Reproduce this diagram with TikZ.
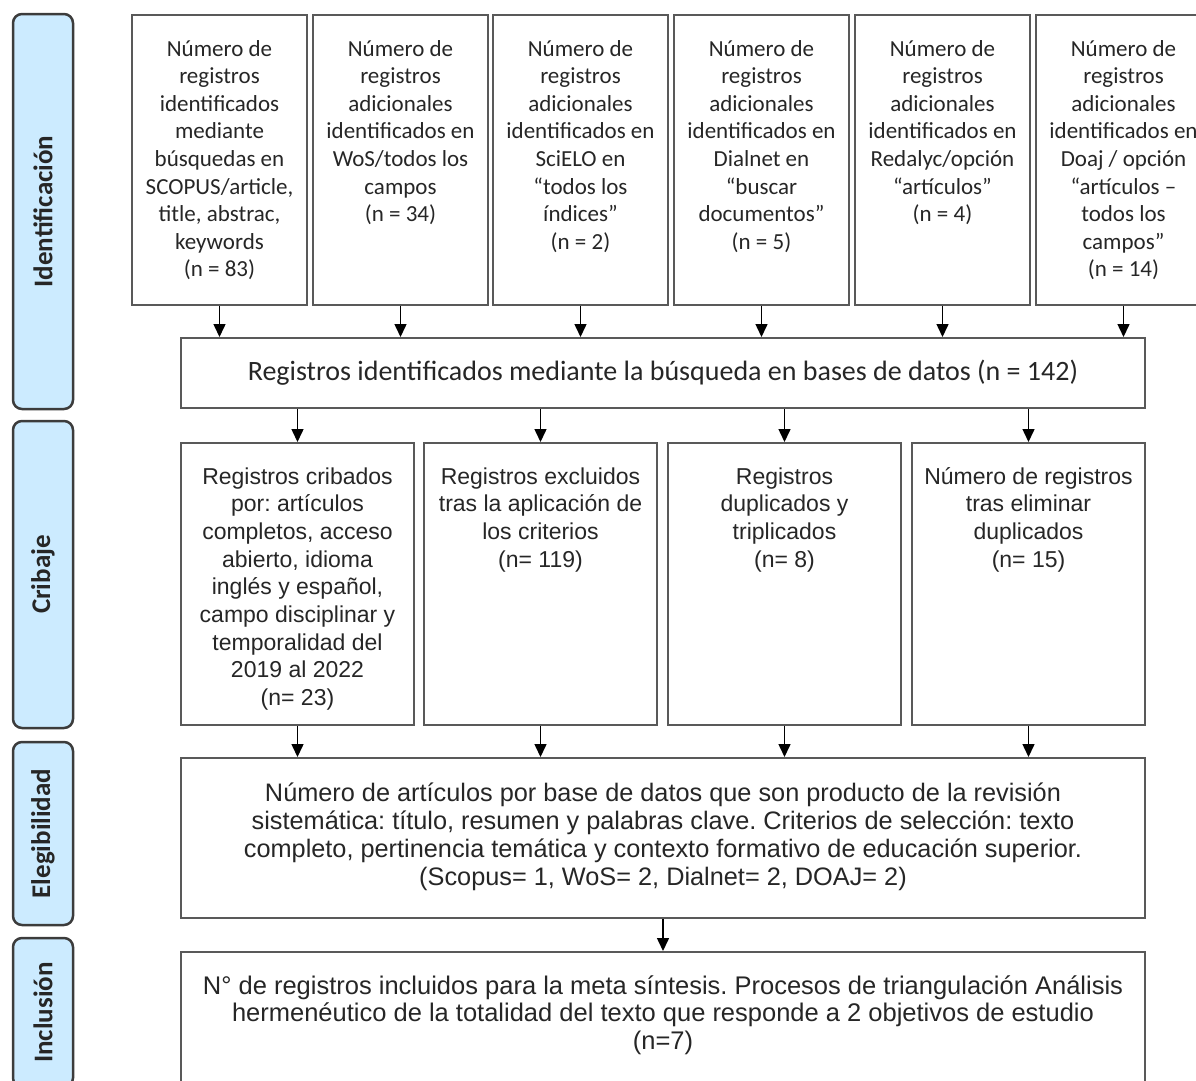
\documentclass[tikz,border=0pt]{standalone}
\usepackage{fontspec}
\setmainfont{Carlito}
\newfontfamily\arialf{Liberation Sans}
\usetikzlibrary{arrows.meta}
\definecolor{barfill}{HTML}{CCEBFF}
\definecolor{barline}{HTML}{3C3C3C}
\definecolor{boxline}{HTML}{595959}
\definecolor{txt}{HTML}{262626}
\newcommand\tbx[4]{\parbox[c][#1][t]{#2}{\centering\frenchspacing\rule{0pt}{#3}#4\par}}
\begin{document}
\begin{tikzpicture}[x=1pt,y=-1pt,
  every node/.style={text=txt},
  topbox/.style={draw=boxline,line width=2pt,inner sep=0pt,anchor=north west,font=\fontsize{23}{27.6}\selectfont},
  lowbox/.style={draw=boxline,line width=2pt,inner sep=0pt,anchor=north west,font=\arialf\fontsize{23}{27.7}\selectfont},
  bar/.style={draw=barline,fill=barfill,line width=2.5pt,rounded corners=9pt,rotate=90,inner sep=0pt,minimum height=60pt,font=\bfseries\fontsize{27}{30}\selectfont},
  arr/.style={line width=1.5pt,draw=black,-{Triangle[length=13pt,width=12pt]}}]
\useasboundingbox (0,0) rectangle (1196,1080);
\clip (0,0) rectangle (1196,1080);

% phase bars
\node[bar,minimum width=395pt] (b1) at (43,211.5) {Identificación};
\node[bar,minimum width=307pt] (b2) at (43,574.5) {Cribaje};
\node[bar,minimum width=183pt] (b3) at (43,833.5) {Elegibilidad};
\node[bar,minimum width=149pt] (b4) at (43,1012.5) {Inclusión};

% identification boxes
\node[topbox] (t1) at (131,14) {\tbx{290pt}{175pt}{41pt}{Número de\\registros\\identificados\\mediante\\búsquedas en\\SCOPUS/article,\\title, abstrac,\\keywords\\(n = 83)}};
\node[topbox] (t2) at (312,14) {\tbx{290pt}{175pt}{41pt}{Número de\\registros\\adicionales\\identificados en\\WoS/todos los\\campos\\(n = 34)}};
\node[topbox] (t3) at (492,14) {\tbx{290pt}{175pt}{41pt}{Número de\\registros\\adicionales\\identificados en\\SciELO en\\“todos los\\índices”\\(n = 2)}};
\node[topbox] (t4) at (673,14) {\tbx{290pt}{175pt}{41pt}{Número de\\registros\\adicionales\\identificados en\\Dialnet en\\“buscar\\documentos”\\(n = 5)}};
\node[topbox] (t5) at (854,14) {\tbx{290pt}{175pt}{41pt}{Número de\\registros\\adicionales\\identificados en\\Redalyc/opción\\“artículos”\\(n = 4)}};
\node[topbox] (t6) at (1035,14) {\tbx{290pt}{175pt}{41pt}{Número de\\registros\\adicionales\\identificados en\\Doaj / opción\\“artículos –\\todos los\\campos”\\(n = 14)}};

% merged box
\node[draw=boxline,line width=2pt,anchor=north west,minimum width=964pt,minimum height=70pt,inner sep=0pt,font=\fontsize{28}{32}\selectfont] (m) at (180,337) {Registros identificados mediante la búsqueda en bases de datos (n = 142)};

% screening boxes
\node[lowbox] (c1) at (180,442) {\tbx{282pt}{233pt}{41pt}{Registros cribados\\por: artículos\\completos, acceso\\abierto, idioma\\inglés y español,\\campo disciplinar y\\temporalidad del\\2019 al 2022\\(n= 23)}};
\node[lowbox] (c2) at (423,442) {\tbx{282pt}{233pt}{41pt}{Registros excluidos\\tras la aplicación de\\los criterios\\(n= 119)}};
\node[lowbox] (c3) at (667,442) {\tbx{282pt}{233pt}{41pt}{Registros\\duplicados y\\triplicados\\(n= 8)}};
\node[lowbox] (c4) at (911,442) {\tbx{282pt}{233pt}{41pt}{Número de registros\\tras eliminar\\duplicados\\(n= 15)}};

% eligibility
\node[lowbox,font=\arialf\fontsize{25.3}{28}\selectfont] (e) at (180,757) {\tbx{160pt}{964pt}{43pt}{Número de artículos por base de datos que son producto de la revisión\\sistemática: título, resumen y palabras clave. Criterios de selección: texto\\completo, pertinencia temática y contexto formativo de educación superior.\\(Scopus= 1, WoS= 2, Dialnet= 2, DOAJ= 2)}};

% inclusion
\node[lowbox,font=\arialf\fontsize{25.5}{27.5}\selectfont] (i) at (180,951) {\tbx{150pt}{964pt}{42pt}{N° de registros incluidos para la meta síntesis. Procesos de triangulación Análisis\\hermenéutico de la totalidad del texto que responde a 2 objetivos de estudio\\(n=7)}};

% connectors
\foreach \n in {t1,t2,t3,t4,t5,t6}
  \draw[arr] (\n.south) -- (\n.south |- m.north);
\foreach \n in {c1,c2,c3,c4}
  \draw[arr] (\n.north |- m.south) -- (\n.north);
\foreach \n in {c1,c2,c3,c4}
  \draw[arr] (\n.south) -- (\n.south |- e.north);
\draw[arr] (e.south) -- (i.north);
\end{tikzpicture}
\end{document}
